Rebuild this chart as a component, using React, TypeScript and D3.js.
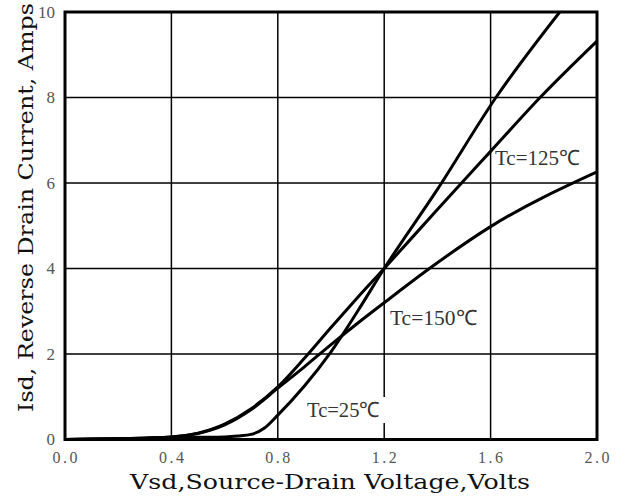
import React from "react";
import * as d3 from "d3";

const xTicks = [0, 0.4, 0.8, 1.2, 1.6, 2.0];
const xTickLabels = ["0.0", "0.4", "0.8", "1.2", "1.6", "2.0"];
const yTicks = [0, 2, 4, 6, 8, 10];
const yTickLabels = ["0", "2", "4", "6", "8", "10"];

const tc25Vsd = [0, 0.2, 0.4, 0.5, 0.6, 0.65, 0.7, 0.75, 0.8, 0.9, 1.0, 1.1, 1.2, 1.4, 1.62, 1.86];
const tc25Isd = [0, 0.02, 0.04, 0.05, 0.06, 0.08, 0.12, 0.27, 0.57, 1.25, 2.05, 3.0, 4.0, 5.85, 8.0, 10.0];

const tc125Vsd = [0, 0.2, 0.4, 0.5, 0.6, 0.7, 0.8, 0.9, 1.0, 1.1, 1.2, 1.4, 1.6, 1.786, 2.0];
const tc125Isd = [0, 0.02, 0.06, 0.15, 0.36, 0.72, 1.23, 1.9, 2.62, 3.32, 4.0, 5.38, 6.74, 8.0, 9.32];

const tc150Vsd = [0, 0.2, 0.4, 0.5, 0.6, 0.7, 0.8, 0.9, 1.0, 1.1, 1.2, 1.37, 1.6, 2.0];
const tc150Isd = [0, 0.02, 0.06, 0.14, 0.34, 0.7, 1.2, 1.7, 2.22, 2.72, 3.2, 4.0, 4.98, 6.26];

const seriesLabels = ["Tc=25℃", "Tc=125℃", "Tc=150℃"];

const W = 627;
const H = 499;
const L = 65, R = 597, T = 12, B = 439.5;

export default function App() {
  const x = d3.scaleLinear().domain([0, 2]).range([L, R]);
  const y = d3.scaleLinear().domain([0, 10]).range([B, T]);
  const line = d3
    .line<[number, number]>()
    .x((d) => x(d[0]))
    .y((d) => y(d[1]))
    .curve(d3.curveMonotoneX);
  const mk = (vs: number[], is: number[]) => vs.map((v, i) => [v, is[i]] as [number, number]);
  const series = [mk(tc25Vsd, tc25Isd), mk(tc125Vsd, tc125Isd), mk(tc150Vsd, tc150Isd)];

  return (
    <svg
      width={W}
      height={H}
      style={{ position: "absolute", left: 0, top: 0, background: "#fff" }}
    >
      <defs>
        <clipPath id="plot">
          <rect x={L} y={T} width={R - L} height={B - T} />
        </clipPath>
      </defs>
      {xTicks.slice(1, -1).map((t) => (
        <line key={"gx" + t} x1={x(t)} x2={x(t)} y1={T} y2={B} stroke="#000" strokeWidth={1.5} />
      ))}
      {yTicks.slice(1, -1).map((t) => (
        <line key={"gy" + t} x1={L} x2={R} y1={y(t)} y2={y(t)} stroke="#000" strokeWidth={1.5} />
      ))}
      <rect x={304} y={397} width={84} height={26} fill="#fff" />
      <g clipPath="url(#plot)">
        {series.map((s, i) => (
          <path key={i} d={line(s) || ""} fill="none" stroke="#000" strokeWidth={3} strokeLinejoin="round" />
        ))}
      </g>
      <rect x={L} y={T} width={R - L} height={B - T} fill="none" stroke="#000" strokeWidth={3} />
      {xTicks.map((t, i) => (
        <text
          key={"xl" + t}
          x={x(t)}
          y={463}
          textAnchor="middle"
          fontFamily="'Liberation Serif', serif"
          fontSize={16}
          fill="#555"
          textLength={25}
          lengthAdjust="spacing"
        >
          {xTickLabels[i]}
        </text>
      ))}
      {yTicks.map((t, i) => (
        <text
          key={"yl" + t}
          x={55}
          y={y(t)}
          dy="0.35em"
          textAnchor="end"
          fontFamily="'Liberation Serif', serif"
          fontSize={17}
          fill="#555"
        >
          {yTickLabels[i]}
        </text>
      ))}
      <text x={495} y={165} fontFamily="'Liberation Serif', serif" fontSize={21} fill="#333" textLength={85} lengthAdjust="spacingAndGlyphs">
        {seriesLabels[1]}
      </text>
      <text x={390} y={325} fontFamily="'Liberation Serif', serif" fontSize={21} fill="#333" textLength={87} lengthAdjust="spacingAndGlyphs">
        {seriesLabels[2]}
      </text>
      <text x={307} y={417} fontFamily="'Liberation Serif', serif" fontSize={21} fill="#333" textLength={73} lengthAdjust="spacingAndGlyphs">
        {seriesLabels[0]}
      </text>
      <text
        x={130}
        y={489}
        fontFamily="'DejaVu Serif', serif"
        fontSize={20}
        fill="#111"
        textLength={400}
        lengthAdjust="spacingAndGlyphs"
      >
        Vsd,Source-Drain Voltage,Volts
      </text>
      <text
        transform="translate(33,412) rotate(-90)"
        x={0}
        y={0}
        fontFamily="'DejaVu Serif', serif"
        fontSize={21}
        fill="#111"
        textLength={409}
        lengthAdjust="spacingAndGlyphs"
      >
        Isd, Reverse Drain Current, Amps
      </text>
    </svg>
  );
}
